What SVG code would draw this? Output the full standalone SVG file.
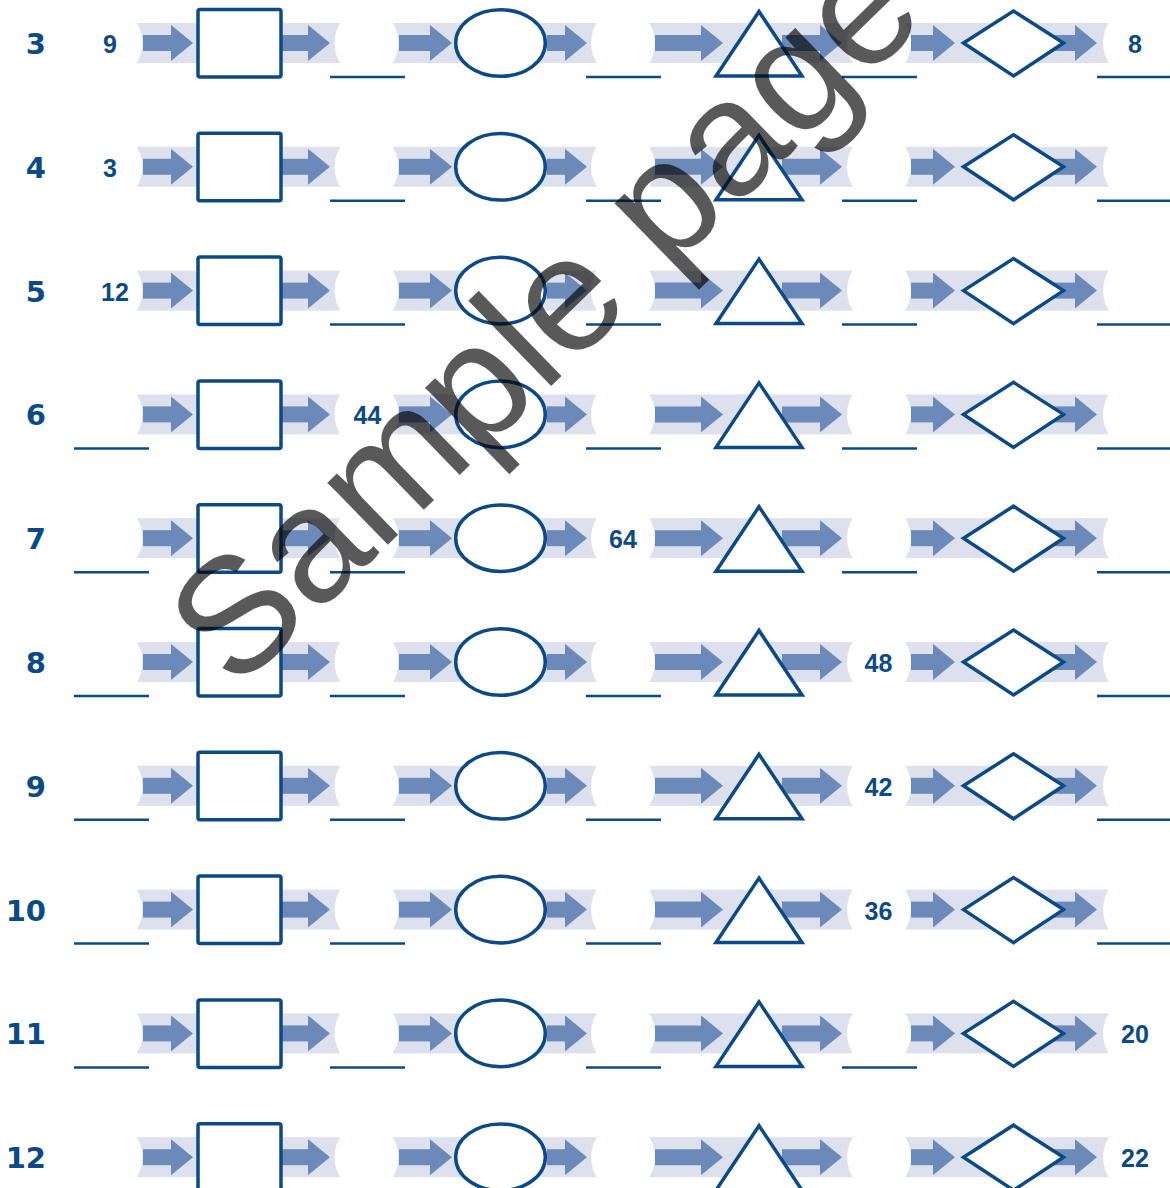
<svg xmlns="http://www.w3.org/2000/svg" xmlns:xlink="http://www.w3.org/1999/xlink" width="1170" height="1188" viewBox="0 0 1170 1188">
<style>
.band{fill:#dde1ee}
.cut{fill:#fff}
.arr{stroke:#6c8ab9;stroke-width:16;fill:none;marker-end:url(#ah)}
.shape{fill:#fff;stroke:#0b4a86;stroke-width:3.5;stroke-linejoin:miter;stroke-miterlimit:10}
.blank{stroke:#0b4a86;stroke-width:2.5}
.lbl{font-family:"DejaVu Sans",sans-serif;font-weight:bold;font-size:29px;fill:#0b4a86;text-anchor:end}
.num{font-family:"Liberation Sans",Arial,sans-serif;font-weight:bold;font-size:25px;fill:#0b4a86;text-anchor:middle}
.first{text-anchor:start}
.wm{font-family:"Liberation Sans",Arial,sans-serif;font-size:164px;fill:#000;fill-opacity:0.65}
</style>
<defs>
<marker id="ah" markerUnits="userSpaceOnUse" markerWidth="22" markerHeight="36" viewBox="0 0 22 36" refX="0" refY="18" orient="auto"><path d="M0,0L22,18L0,36Z" fill="#6c8ab9"/></marker>
<g id="bandrow">
<rect class="band" x="120" y="-20" width="1005" height="40"/>
<ellipse class="cut" cx="110.5" cy="0" rx="32" ry="35"/>
<ellipse class="cut" cx="366.5" cy="0" rx="32" ry="35"/>
<ellipse class="cut" cx="623" cy="0" rx="32" ry="35"/>
<ellipse class="cut" cx="879" cy="0" rx="32" ry="35"/>
<ellipse class="cut" cx="1135" cy="0" rx="32" ry="35"/>
</g>
<g id="arrows">
<line class="arr" x1="143" y1="0" x2="171" y2="0"/>
<line class="arr" x1="281" y1="0" x2="308" y2="0"/>
<line class="arr" x1="399" y1="0" x2="430" y2="0"/>
<line class="arr" x1="547" y1="0" x2="565" y2="0"/>
<line class="arr" x1="655" y1="0" x2="701" y2="0"/>
<line class="arr" x1="782" y1="0" x2="820" y2="0"/>
<line class="arr" x1="911" y1="0" x2="933" y2="0"/>
<line class="arr" x1="1053" y1="0" x2="1075" y2="0"/>
</g>
<rect id="sq" class="shape" x="198" y="-33.5" width="83" height="67.5" rx="2"/>
<ellipse id="ov" class="shape" cx="500.5" cy="0" rx="44.8" ry="33.3"/>
<polygon id="tri" class="shape" points="759,-31.5 716,33 802,33"/>
<polygon id="dia" class="shape" points="963.5,0 1013.5,-32 1063.5,0 1013.5,33"/>
<line id="b0" class="blank" x1="74" y1="34" x2="149" y2="34"/>
<line id="b1" class="blank" x1="330" y1="34" x2="405" y2="34"/>
<line id="b2" class="blank" x1="586" y1="34" x2="661" y2="34"/>
<line id="b3" class="blank" x1="842" y1="34" x2="917" y2="34"/>
<line id="b4" class="blank" x1="1097" y1="34" x2="1172" y2="34"/>
</defs>
<rect width="1170" height="1188" fill="#fff"/>
<g id="bands">
<use xlink:href="#bandrow" y="43"/>
<use xlink:href="#bandrow" y="166.8"/>
<use xlink:href="#bandrow" y="290.6"/>
<use xlink:href="#bandrow" y="414.4"/>
<use xlink:href="#bandrow" y="538.2"/>
<use xlink:href="#bandrow" y="662"/>
<use xlink:href="#bandrow" y="785.8"/>
<use xlink:href="#bandrow" y="909.6"/>
<use xlink:href="#bandrow" y="1033.4"/>
<use xlink:href="#bandrow" y="1157.2"/>
</g>
<g id="connectors">
<use xlink:href="#arrows" y="43"/>
<use xlink:href="#arrows" y="166.8"/>
<use xlink:href="#arrows" y="290.6"/>
<use xlink:href="#arrows" y="414.4"/>
<use xlink:href="#arrows" y="538.2"/>
<use xlink:href="#arrows" y="662"/>
<use xlink:href="#arrows" y="785.8"/>
<use xlink:href="#arrows" y="909.6"/>
<use xlink:href="#arrows" y="1033.4"/>
<use xlink:href="#arrows" y="1157.2"/>
</g>
<g id="row3" transform="translate(0,43)">
<text class="lbl" x="46" y="11">3</text>
<g id="r3-v0"><text class="num first" x="103" y="10">9</text></g>
<g id="r3-square"><use xlink:href="#sq"/></g>
<g id="r3-v1"><use xlink:href="#b1"/></g>
<g id="r3-ellipse"><use xlink:href="#ov"/></g>
<g id="r3-v2"><use xlink:href="#b2"/></g>
<g id="r3-triangle"><use xlink:href="#tri"/></g>
<g id="r3-v3"><use xlink:href="#b3"/></g>
<g id="r3-diamond"><use xlink:href="#dia"/></g>
<g id="r3-v4"><text class="num" x="1135" y="10">8</text><use xlink:href="#b4"/></g>
</g>
<g id="row4" transform="translate(0,166.8)">
<text class="lbl" x="46" y="11">4</text>
<g id="r4-v0"><text class="num first" x="103" y="10">3</text></g>
<g id="r4-square"><use xlink:href="#sq"/></g>
<g id="r4-v1"><use xlink:href="#b1"/></g>
<g id="r4-ellipse"><use xlink:href="#ov"/></g>
<g id="r4-v2"><use xlink:href="#b2"/></g>
<g id="r4-triangle"><use xlink:href="#tri"/></g>
<g id="r4-v3"><use xlink:href="#b3"/></g>
<g id="r4-diamond"><use xlink:href="#dia"/></g>
<g id="r4-v4"><use xlink:href="#b4"/></g>
</g>
<g id="row5" transform="translate(0,290.6)">
<text class="lbl" x="46" y="11">5</text>
<g id="r5-v0"><text class="num first" x="101" y="10">12</text></g>
<g id="r5-square"><use xlink:href="#sq"/></g>
<g id="r5-v1"><use xlink:href="#b1"/></g>
<g id="r5-ellipse"><use xlink:href="#ov"/></g>
<g id="r5-v2"><use xlink:href="#b2"/></g>
<g id="r5-triangle"><use xlink:href="#tri"/></g>
<g id="r5-v3"><use xlink:href="#b3"/></g>
<g id="r5-diamond"><use xlink:href="#dia"/></g>
<g id="r5-v4"><use xlink:href="#b4"/></g>
</g>
<g id="row6" transform="translate(0,414.4)">
<text class="lbl" x="46" y="11">6</text>
<g id="r6-v0"><use xlink:href="#b0"/></g>
<g id="r6-square"><use xlink:href="#sq"/></g>
<g id="r6-v1"><text class="num" x="367.5" y="10">44</text></g>
<g id="r6-ellipse"><use xlink:href="#ov"/></g>
<g id="r6-v2"><use xlink:href="#b2"/></g>
<g id="r6-triangle"><use xlink:href="#tri"/></g>
<g id="r6-v3"><use xlink:href="#b3"/></g>
<g id="r6-diamond"><use xlink:href="#dia"/></g>
<g id="r6-v4"><use xlink:href="#b4"/></g>
</g>
<g id="row7" transform="translate(0,538.2)">
<text class="lbl" x="46" y="11">7</text>
<g id="r7-v0"><use xlink:href="#b0"/></g>
<g id="r7-square"><use xlink:href="#sq"/></g>
<g id="r7-v1"><use xlink:href="#b1"/></g>
<g id="r7-ellipse"><use xlink:href="#ov"/></g>
<g id="r7-v2"><text class="num" x="623" y="10">64</text></g>
<g id="r7-triangle"><use xlink:href="#tri"/></g>
<g id="r7-v3"><use xlink:href="#b3"/></g>
<g id="r7-diamond"><use xlink:href="#dia"/></g>
<g id="r7-v4"><use xlink:href="#b4"/></g>
</g>
<g id="row8" transform="translate(0,662)">
<text class="lbl" x="46" y="11">8</text>
<g id="r8-v0"><use xlink:href="#b0"/></g>
<g id="r8-square"><use xlink:href="#sq"/></g>
<g id="r8-v1"><use xlink:href="#b1"/></g>
<g id="r8-ellipse"><use xlink:href="#ov"/></g>
<g id="r8-v2"><use xlink:href="#b2"/></g>
<g id="r8-triangle"><use xlink:href="#tri"/></g>
<g id="r8-v3"><text class="num" x="878.5" y="10">48</text></g>
<g id="r8-diamond"><use xlink:href="#dia"/></g>
<g id="r8-v4"><use xlink:href="#b4"/></g>
</g>
<g id="row9" transform="translate(0,785.8)">
<text class="lbl" x="46" y="11">9</text>
<g id="r9-v0"><use xlink:href="#b0"/></g>
<g id="r9-square"><use xlink:href="#sq"/></g>
<g id="r9-v1"><use xlink:href="#b1"/></g>
<g id="r9-ellipse"><use xlink:href="#ov"/></g>
<g id="r9-v2"><use xlink:href="#b2"/></g>
<g id="r9-triangle"><use xlink:href="#tri"/></g>
<g id="r9-v3"><text class="num" x="878.5" y="10">42</text></g>
<g id="r9-diamond"><use xlink:href="#dia"/></g>
<g id="r9-v4"><use xlink:href="#b4"/></g>
</g>
<g id="row10" transform="translate(0,909.6)">
<text class="lbl" x="46" y="11">10</text>
<g id="r10-v0"><use xlink:href="#b0"/></g>
<g id="r10-square"><use xlink:href="#sq"/></g>
<g id="r10-v1"><use xlink:href="#b1"/></g>
<g id="r10-ellipse"><use xlink:href="#ov"/></g>
<g id="r10-v2"><use xlink:href="#b2"/></g>
<g id="r10-triangle"><use xlink:href="#tri"/></g>
<g id="r10-v3"><text class="num" x="878.5" y="10">36</text></g>
<g id="r10-diamond"><use xlink:href="#dia"/></g>
<g id="r10-v4"><use xlink:href="#b4"/></g>
</g>
<g id="row11" transform="translate(0,1033.4)">
<text class="lbl" x="46" y="11">11</text>
<g id="r11-v0"><use xlink:href="#b0"/></g>
<g id="r11-square"><use xlink:href="#sq"/></g>
<g id="r11-v1"><use xlink:href="#b1"/></g>
<g id="r11-ellipse"><use xlink:href="#ov"/></g>
<g id="r11-v2"><use xlink:href="#b2"/></g>
<g id="r11-triangle"><use xlink:href="#tri"/></g>
<g id="r11-v3"><use xlink:href="#b3"/></g>
<g id="r11-diamond"><use xlink:href="#dia"/></g>
<g id="r11-v4"><text class="num" x="1135" y="10">20</text></g>
</g>
<g id="row12" transform="translate(0,1157.2)">
<text class="lbl" x="46" y="11">12</text>
<g id="r12-square"><use xlink:href="#sq"/></g>
<g id="r12-ellipse"><use xlink:href="#ov"/></g>
<g id="r12-triangle"><use xlink:href="#tri"/></g>
<g id="r12-diamond"><use xlink:href="#dia"/></g>
<g id="r12-v4"><text class="num" x="1135" y="10">22</text></g>
</g>
<g id="watermark">
<text class="wm" transform="translate(236,692.5) rotate(-44.2)">Sample page</text>
</g>
</svg>
